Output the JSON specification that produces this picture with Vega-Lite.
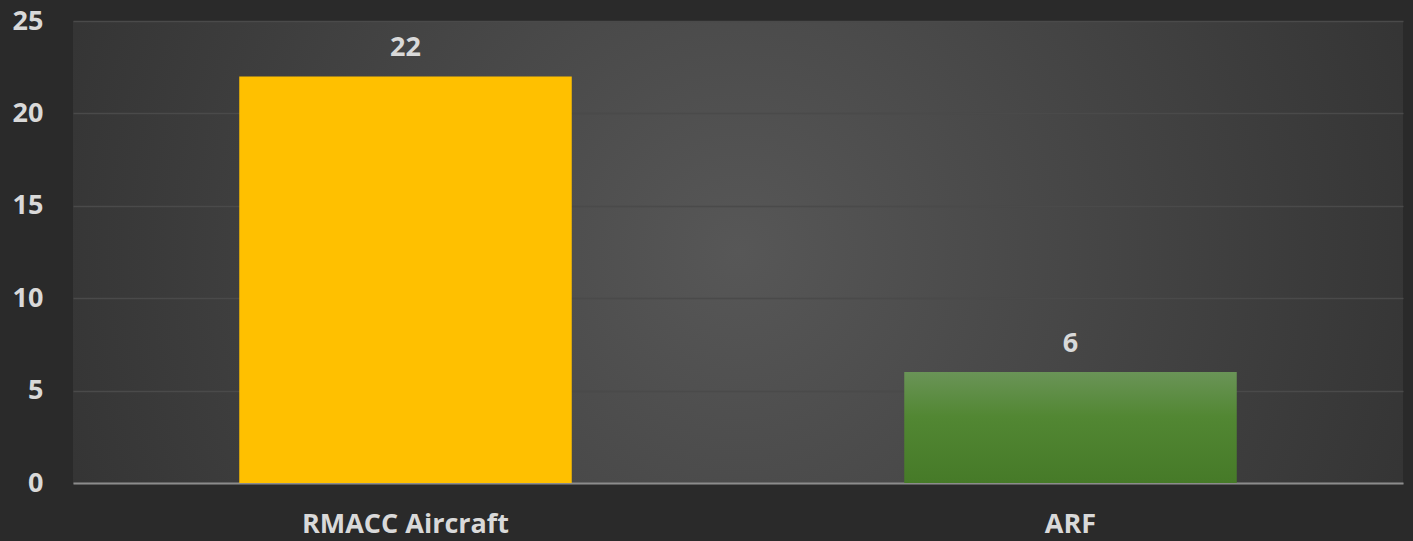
{
  "$schema": "https://vega.github.io/schema/vega-lite/v6.json",
  "width": 1413,
  "height": 541,
  "autosize": {"type": "fit", "contains": "padding"},
  "padding": {"left": 12, "top": 7, "right": 10, "bottom": 4},
  "background": "#2a2a2a",
  "config": {
    "view": {
      "stroke": null,
      "fill": {
        "gradient": "radial",
        "x1": 0.5, "y1": 0.5, "r1": 0,
        "x2": 0.5, "y2": 0.5, "r2": 0.75,
        "stops": [
          {"offset": 0, "color": "#575757"},
          {"offset": 0.55, "color": "#3c3c3c"},
          {"offset": 1, "color": "#272727"}
        ]
      }
    },
    "font": "Open Sans",
    "axis": {
      "labelFont": "Open Sans",
      "labelFontWeight": "bold",
      "labelFontSize": 27,
      "labelColor": "#d9d9d9",
      "labelLimit": 0,
      "title": null
    }
  },
  "data": {
    "values": [
      {"category": "RMACC Aircraft", "value": 22},
      {"category": "ARF", "value": 6}
    ]
  },
  "encoding": {
    "x": {
      "field": "category",
      "type": "nominal",
      "sort": null,
      "scale": {"paddingInner": 0.5, "paddingOuter": 0.25},
      "axis": {
        "labelAngle": 0,
        "ticks": false,
        "domain": true,
        "domainColor": "#8c8c8c",
        "domainWidth": 2,
        "labelPadding": 28,
        "grid": false
      }
    },
    "y": {
      "field": "value",
      "type": "quantitative",
      "scale": {"domain": [0, 25], "nice": false},
      "axis": {
        "values": [0, 5, 10, 15, 20, 25],
        "domain": false,
        "ticks": false,
        "grid": true,
        "gridColor": "#4a4a4a",
        "gridWidth": 1.5,
        "labelPadding": 30
      }
    }
  },
  "layer": [
    {
      "transform": [{"filter": "datum.category === 'RMACC Aircraft'"}],
      "mark": {"type": "bar", "fill": "#FFC000"}
    },
    {
      "transform": [{"filter": "datum.category === 'ARF'"}],
      "mark": {
        "type": "bar",
        "fill": {
          "gradient": "linear",
          "x1": 0, "y1": 0, "x2": 0, "y2": 1,
          "stops": [
            {"offset": 0, "color": "#6a9457"},
            {"offset": 0.4, "color": "#528733"},
            {"offset": 1, "color": "#467a28"}
          ]
        }
      }
    },
    {
      "mark": {
        "type": "text",
        "baseline": "alphabetic",
        "dy": -20,
        "font": "Open Sans",
        "fontWeight": "bold",
        "fontSize": 27,
        "color": "#d9d9d9"
      },
      "encoding": {"text": {"field": "value", "type": "quantitative"}}
    }
  ]
}
